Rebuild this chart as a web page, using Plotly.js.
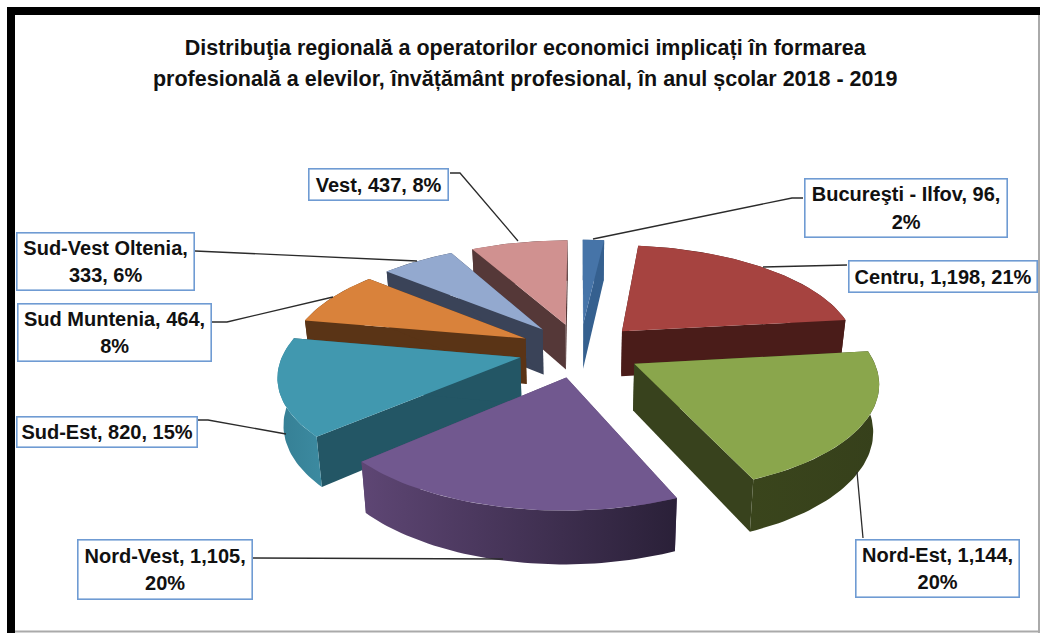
<!DOCTYPE html>
<html>
<head>
<meta charset="utf-8">
<script src="https://cdn.plot.ly/plotly-3.0.1.min.js"></script>
<style>html,body{margin:0;padding:0;background:#fff}#chart{width:1040px;height:633px}</style>
</head>
<body>
<div id="chart"></div>
<script>
// ---- data ----
var categories = ["Bucureşti - Ilfov","Centru","Nord-Est","Nord-Vest","Sud-Est","Sud Muntenia","Sud-Vest Oltenia","Vest"];
var values = [96,1198,1144,1105,820,464,333,437];
var labelTexts = [
  "Bucureşti - Ilfov, 96,<br>2%",
  "Centru, 1,198, 21%",
  "Nord-Est, 1,144,<br>20%",
  "Nord-Vest, 1,105,<br>20%",
  "Sud-Est, 820, 15%",
  "Sud Muntenia, 464,<br>8%",
  "Sud-Vest Oltenia,<br>333, 6%",
  "Vest, 437, 8%"
];
var titleText = "Distribuţia regională a operatorilor economici implicați în formarea<br>profesională a elevilor, învățământ profesional, în anul școlar 2018 - 2019";

// ---- styles ----
var topColors  = ["#4674A8","#A64340","#8AA64C","#71588F","#4198AF","#D9823B","#93A9CF","#D09190"];
var sideColors = ["#35608F","#4A1C19","#38421D","#5B4470","#235665","#5A3416","#3A4358","#553838"];
var rimColors  = [["#35608F","#35608F"],["#4A1C19","#4A1C19"],["#3A451C","#36401B"],["#5E4674","#2A2038"],["#357F94","#3C8AA0"],["#5A3416","#5A3416"],["#3A4358","#3A4358"],["#553838","#553838"]];
var paintOrder = [0,7,6,5,4,1,2,3];

// ---- pie geometry (a tilted, exploded disk seen in perspective) ----
var cx = 580, cy = 350, R = 236, K = 104, persp = 0.15, explode = 0.26, depth = 46;
var total = values.reduce(function(a,b){return a+b;},0);
function proj(X, Y){ var s = 1/(1+persp*Y); return [cx+R*X*s, cy-K*Y*s, s]; }
function low(p){ return [cx+(p[0]-cx)*0.98, p[1]+depth*Math.pow(p[2],0.75)]; }

// ---- label layout ----
var boxX = [905.5,942.5,937,164.5,106.5,114,105,378];
var boxY = [207.5,276,568,569,431.5,332,261,184];
var boxW = [205,191,166,177,183,196,180,142];
var boxH = [61,34,60,62,33,60,60,34];
var leaderX = [[803,792,593],[847,763],[863,857],[253,503],[198,208,286],[212,227,333],[195,417],[450,460,518]];
var leaderY = [[198,198,239],[265,267],[538,472],[558,559],[420,420,434],[322,322,297],[251,261],[173,173,241]];

var traces = [];
var annots = [];
function addPoly(pts, name, color, grad){
  var t = {type:'scatter', mode:'lines', x:pts.map(function(p){return p[0];}), y:pts.map(function(p){return p[1];}),
    fill:'toself', line:{width:0,color:color}, fillcolor:color, name:name, hoverinfo:'name', showlegend:false};
  if(grad){ t.fillgradient = {type:'horizontal', colorscale:[[0,grad[0]],[1,grad[1]]]}; }
  traces.push(t);
}
var cum = [0];
values.forEach(function(v,i){ cum.push(cum[i]+v/total*2*Math.PI); });
paintOrder.forEach(function(i){
  var a0 = cum[i], a1 = cum[i+1], m = (a0+a1)/2;
  var ax = explode*Math.sin(m), ay = explode*Math.cos(m);
  var apex = proj(ax, ay), arc = [];
  var n = Math.max(4, Math.round((a1-a0)*40));
  for(var j=0;j<=n;j++){ var t = a0+(a1-a0)*j/n; arc.push(proj(ax+Math.sin(t), ay+Math.cos(t))); }
  var lowArc = arc.map(low), lowApex = low(apex);
  var first = arc[0], last = arc[n];
  addPoly([apex,first,low(first),lowApex,apex], categories[i], sideColors[i]);
  addPoly([apex,last,low(last),lowApex,apex], categories[i], sideColors[i]);
  addPoly(arc.concat(lowArc.slice().reverse()).concat([arc[0]]), categories[i], rimColors[i][0], rimColors[i]);
  addPoly([apex].concat(arc).concat([apex]), categories[i], topColors[i]);
});
categories.forEach(function(c,i){
  traces.push({type:'scatter',mode:'lines',x:leaderX[i],y:leaderY[i],line:{color:'#2b2b2b',width:1.3},hoverinfo:'skip',showlegend:false});
  annots.push({xref:'x',yref:'y',x:boxX[i],y:boxY[i],xanchor:'center',yanchor:'middle',showarrow:false,
    text:'<b><span style="font-size:20px">'+labelTexts[i]+'</span></b>',
    font:{family:'"Liberation Sans",Arial,sans-serif',size:21,color:'#111'},
    align:'center',width:boxW[i]-4,height:boxH[i]-4,borderpad:0,borderwidth:1.6,bordercolor:'#6F9BD3',bgcolor:'#fff'});
});

var layout = {
  width:1040,height:633,margin:{l:0,r:0,t:0,b:0},paper_bgcolor:'#fff',plot_bgcolor:'#fff',showlegend:false,
  title:{text:'<b><span style="font-size:21.5px">'+titleText+'</span></b>',x:0.505,xanchor:'center',y:0.913,yanchor:'middle',
    font:{family:'"Liberation Sans",Arial,sans-serif',size:24,color:'#111'}},
  xaxis:{range:[0,1040],visible:false,fixedrange:true},
  yaxis:{range:[633,0],visible:false,fixedrange:true},
  annotations:annots,
  shapes:[
    {type:'line',xref:'x',yref:'y',x0:11,x1:11,y0:7,y1:633,line:{color:'#000',width:8},layer:'above'},
    {type:'line',xref:'x',yref:'y',x0:7,x1:1040,y0:11,y1:11,line:{color:'#000',width:8},layer:'above'},
    {type:'line',xref:'x',yref:'y',x0:15,x1:1040,y0:631.5,y1:631.5,line:{color:'#aaa',width:2},layer:'above'},
    {type:'line',xref:'x',yref:'y',x0:1039,x1:1039,y0:15,y1:633,line:{color:'#aaa',width:2},layer:'above'}
  ]
};
Plotly.newPlot('chart',traces,layout,{displayModeBar:false,staticPlot:true});
</script>
</body>
</html>
